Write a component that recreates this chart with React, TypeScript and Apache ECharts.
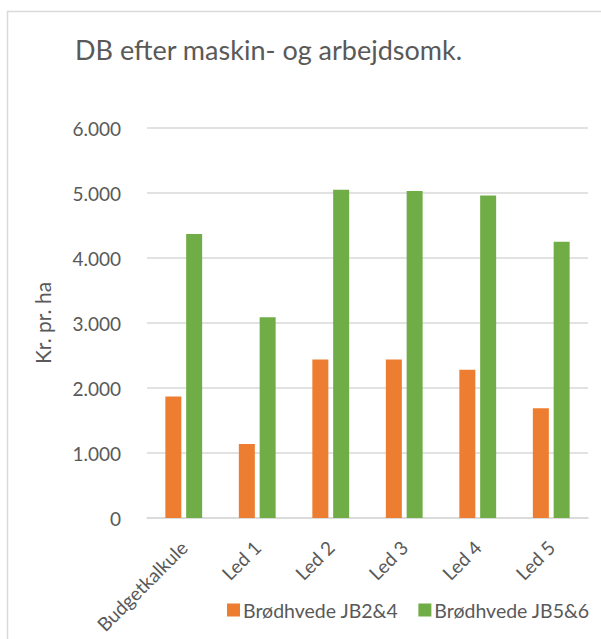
import React, { useEffect, useRef } from "react";
import * as echarts from "echarts";

const categories = ["Budgetkalkule", "Led 1", "Led 2", "Led 3", "Led 4", "Led 5"];
const seriesNames = ["Brødhvede JB2&4", "Brødhvede JB5&6"];
const jb24 = [1870, 1140, 2440, 2440, 2280, 1690];
const jb56 = [4370, 3090, 5050, 5030, 4960, 4250];
const yTicks = [0, 1000, 2000, 3000, 4000, 5000, 6000];
const titleText = "DB efter maskin- og arbejdsomk.";
const yAxisName = "Kr. pr. ha";

const FONT = "Lato";
const TEXT = "#595959";

export default function App() {
  const ref = useRef<HTMLDivElement>(null);
  useEffect(() => {
    const chart = echarts.init(ref.current!, null, { renderer: "svg" });
    chart.setOption({
      animation: false,
      backgroundColor: "#ffffff",
      textStyle: { fontFamily: FONT },
      title: {
        text: titleText,
        left: 70,
        top: 31,
        textStyle: { fontFamily: FONT, fontSize: 27, fontWeight: "normal", color: TEXT },
      },
      graphic: [
        {
          type: "rect",
          shape: { x: 7.5, y: 11.5, width: 800, height: 800 },
          style: { fill: "none", stroke: "#d9d9d9", lineWidth: 1.5 },
          silent: true,
        },
      ],
      legend: {
        bottom: 14,
        left: 222,
        itemWidth: 13,
        itemHeight: 13,
        itemGap: 20,
        icon: "rect",
        textStyle: { fontFamily: FONT, fontSize: 19.5, color: TEXT, padding: [0, 0, 0, -2] },
        data: seriesNames,
      },
      grid: { left: 147, right: 13, top: 128, bottom: 121, containLabel: false },
      xAxis: {
        type: "category",
        data: categories,
        axisLine: { show: true, lineStyle: { color: "#d9d9d9", width: 1.5 } },
        axisTick: { show: false },
        axisLabel: { rotate: 45, fontFamily: FONT, fontSize: 19, color: TEXT, margin: 26, interval: 0 },
      },
      yAxis: {
        type: "value",
        min: yTicks[0],
        max: yTicks[yTicks.length - 1],
        interval: 1000,
        name: yAxisName,
        nameLocation: "middle",
        nameGap: 94,
        nameTextStyle: { fontFamily: FONT, fontSize: 21, color: TEXT },
        axisLine: { show: false },
        axisTick: { show: false },
        splitLine: { lineStyle: { color: "#d9d9d9", width: 1.5 } },
        axisLabel: {
          fontFamily: FONT,
          fontSize: 19,
          color: TEXT,
          margin: 26,
          formatter: (v: number) => (v === 0 ? "0" : v.toLocaleString("de-DE")),
        },
      },
      series: [
        {
          name: seriesNames[0],
          type: "bar",
          data: jb24,
          barWidth: 16,
          barGap: "30%",
          itemStyle: { color: "#ED7D31" },
        },
        {
          name: seriesNames[1],
          type: "bar",
          data: jb56,
          barWidth: 16,
          barGap: "30%",
          itemStyle: { color: "#70AD47" },
        },
      ],
    });
    return () => chart.dispose();
  }, []);
  return (
    <div
      ref={ref}
      style={{ position: "fixed", left: 0, top: 0, width: 601, height: 639 }}
    />
  );
}
